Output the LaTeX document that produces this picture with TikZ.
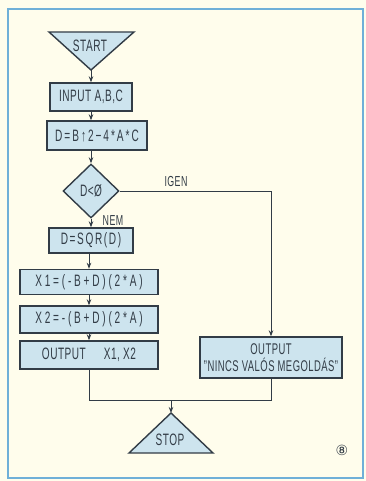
\documentclass[tikz,border=0pt]{standalone}
\usepackage{fontspec}
\setmainfont{Liberation Sans}[FakeStretch=0.61, LetterSpace=3]
\newfontfamily\symfont{DejaVu Sans}
\usetikzlibrary{shapes.geometric,arrows.meta}
\definecolor{cream}{RGB}{255,253,236}
\definecolor{frameblue}{RGB}{112,176,216}
\definecolor{boxfill}{RGB}{205,228,238}
\definecolor{ink}{RGB}{50,60,70}
\newcommand{\fs}{\fontsize{16.5}{17}\selectfont}
\begin{document}
\begin{tikzpicture}[x=1pt,y=-1pt,
  box/.style={draw=ink, line width=1.4pt, fill=boxfill, inner sep=0pt, text=ink, font=\fs},
  tri/.style={draw=ink, line width=1.4pt, fill=boxfill, line join=miter},
  txt/.style={text=ink, font=\fs, inner sep=0pt},
  lbl/.style={text=ink, font=\fontsize{14.5}{15}\selectfont, inner sep=0pt},
  conn/.style={draw=ink, line width=0.9pt},
  arr/.style={conn, -{Stealth[length=6pt,width=4.5pt]}}]
% background and frame
\fill[cream] (0,0) rectangle (366,481);
\draw[frameblue, line width=2.5pt] (8,9) rectangle (363,478);
% START
\draw[tri] (49,32) -- (134,32) -- (91,70) -- cycle;
\node[txt] (start) at (90,46) {START};
\coordinate (startapex) at (91,70);
% boxes
\node[box, minimum width=82pt, minimum height=28pt] (input) at (91,97) {INPUT A,B,C};
\node[box, minimum width=100pt, minimum height=29pt, font={\fs\addfontfeature{LetterSpace=12}}] (dcalc) at (97,135.5) {D=B↑2−4*A*C};
\node[diamond, draw=ink, line width=1.4pt, fill=boxfill, minimum width=56pt, minimum height=54pt, inner sep=0pt, text=ink, font=\fs] (dec) at (91,191) {D<Ø};
\node[box, minimum width=84pt, minimum height=25pt, font={\fs\addfontfeature{LetterSpace=10}}] (sqr) at (91,240.5) {D=SQR(D)};
\node[box, minimum width=138pt, minimum height=25pt, font={\fs\addfontfeature{LetterSpace=17}}] (x1) at (89,282) {X1=(-B+D)(2*A)};
\node[box, minimum width=138pt, minimum height=27pt, font={\fs\addfontfeature{LetterSpace=17}}] (x2) at (89,319.5) {X2=-(B+D)(2*A)};
\node[box, minimum width=138pt, minimum height=28pt] (out) at (89,355) {OUTPUT\hspace{18pt}X1, X2};
\node[box, minimum width=142pt, minimum height=41pt, align=center, font={\fontsize{15.5}{16}\selectfont}] (nincs) at (271,357.5) {OUTPUT\\[1pt]"NINCS VALÓS MEGOLDÁS"};
% STOP
\draw[tri] (129,453) -- (213,453) -- (171,413) -- cycle;
\node[txt] (stop) at (170,440) {STOP};
\coordinate (stopapex) at (171,413);
% connectors
\draw[arr] (startapex) -- (input.north);
\draw[arr] (input.south) -- (input.south |- dcalc.north);
\draw[arr] (input.south |- dcalc.south) -- (dec.north);
\draw[arr] (dec.south) -- (sqr.north);
\draw[arr] (sqr.south -| x1.north) -- (x1.north);
\draw[arr] (x1.south) -- (x2.north);
\draw[arr] (x2.south) -- (out.north);
\coordinate (corner) at (271,191);
\draw[arr] (dec.east) -- (corner) -- (nincs.north);
\coordinate (join) at (171,400);
\draw[conn] (out.south) -- (out.south |- join) -- (nincs.south |- join) -- (nincs.south);
\draw[arr] (join) -- (stopapex);
% labels
\node[lbl] (igen) at (176,182) {IGEN};
\node[lbl] (nem) at (113,221) {NEM};
\node[text=ink, font=\symfont\fontsize{14}{14}\selectfont, inner sep=0pt] (fig) at (342,450) {⑧};
\end{tikzpicture}
\end{document}
